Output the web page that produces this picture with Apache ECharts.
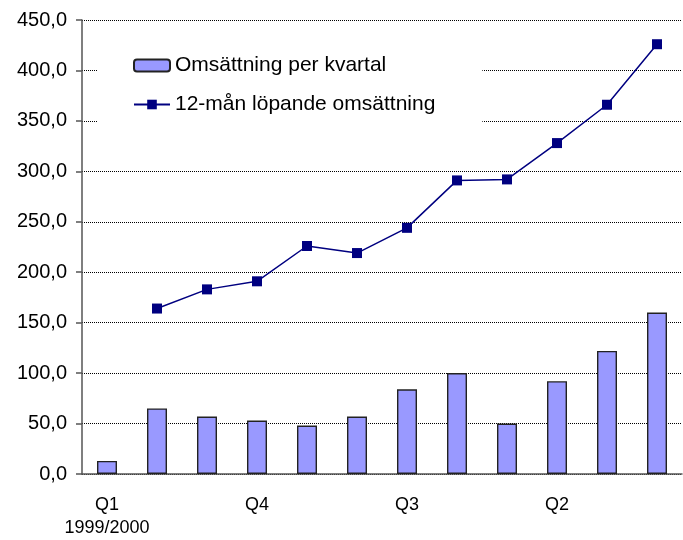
<!DOCTYPE html>
<html>
<head>
    <meta charset="UTF-8">
    <title>Omsättning</title>
    <script src="https://cdn.jsdelivr.net/npm/echarts@6/dist/echarts.min.js"></script>
    <style>
        html, body { margin: 0; padding: 0; background: #fff; }
        #main { width: 683px; height: 540px; }
    </style>
</head>
<body>
<div id="main"></div>
<script>
    // data
    var quarters = ['Q1\n1999/2000', '', '', 'Q4', '', '', 'Q3', '', '', 'Q2', '', ''];
    var perKvartal = [13, 65, 57, 53, 48, 57, 84, 100, 50, 92, 122, 160];
    var rullande = ['-', 164, 183, 191, 226, 219, 244, 291, 292, 328, 366, 426];
    var yTicks = {min: 0, max: 450, interval: 50};

    var myChart = echarts.init(document.getElementById('main'));

    myChart.setOption({
        animation: false,
        textStyle: {fontFamily: 'Liberation Sans, Arial, sans-serif'},
        grid: {left: 82, right: 1, top: 20, bottom: 64},
        legend: {
            orient: 'vertical',
            left: 97,
            top: 34,
            backgroundColor: '#fff',
            padding: [21, 47, 21, 36],
            itemWidth: 36,
            itemHeight: 12,
            itemGap: 18,
            textStyle: {fontSize: 21, color: '#000', lineHeight: 20},
            data: ['Omsättning per kvartal', '12-mån löpande omsättning']
        },
        xAxis: {
            type: 'category',
            data: quarters,
            boundaryGap: true,
            axisLine: {lineStyle: {color: '#555', width: 1.5}},
            axisTick: {interval: 0, length: 6, lineStyle: {color: '#555', width: 1.5}},
            axisLabel: {interval: 0, color: '#000', fontSize: 18, lineHeight: 23, margin: 20}
        },
        yAxis: {
            type: 'value',
            min: yTicks.min,
            max: yTicks.max,
            interval: yTicks.interval,
            axisLine: {show: true, lineStyle: {color: '#555', width: 1.5}},
            axisTick: {show: true, length: 6, lineStyle: {color: '#555', width: 1.5}},
            axisLabel: {
                color: '#000',
                fontSize: 20,
                margin: 15,
                formatter: function (v) {
                    return v.toFixed(1).replace('.', ',');
                }
            },
            splitLine: {lineStyle: {type: 'dotted', color: '#000', width: 1}}
        },
        series: [
            {
                name: 'Omsättning per kvartal',
                type: 'bar',
                data: perKvartal,
                barWidth: 20,
                itemStyle: {color: '#9999ff', borderColor: '#222', borderWidth: 1.4}
            },
            {
                name: '12-mån löpande omsättning',
                type: 'line',
                data: rullande,
                symbol: 'rect',
                symbolSize: 10,
                itemStyle: {color: '#000080'},
                lineStyle: {color: '#000080', width: 1.5}
            }
        ]
    });
</script>
</body>
</html>
